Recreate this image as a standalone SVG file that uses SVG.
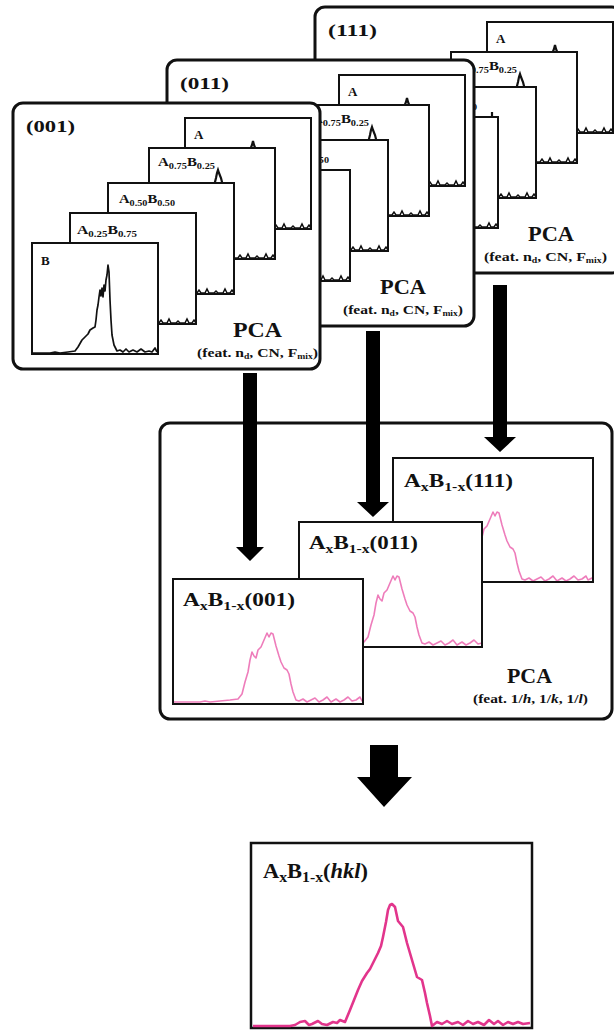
<svg xmlns="http://www.w3.org/2000/svg" xmlns:xlink="http://www.w3.org/1999/xlink" width="614" height="1030" viewBox="0 0 614 1030">
<style>
.panel{fill:#fff;stroke:#111;stroke-width:3}
.fr{fill:#fff;stroke:#111;stroke-width:2}
.t{font-family:"Liberation Serif","Times New Roman",serif;font-weight:bold;fill:#111}
.hd{font-size:17px}
.lb{font-size:13px}
.pca{font-size:21px}
.ft{font-size:13px}
.ml{font-size:19px}
.wg{fill:none;stroke:#111;stroke-width:1.5}
.tip{fill:none;stroke:#111;stroke-width:2.2}
.pk{fill:none;stroke:#ee7dbb;stroke-width:1.6;stroke-linejoin:round}
.pk2{fill:none;stroke:#e2358c;stroke-width:2.6;stroke-linejoin:round}
.arr{fill:#000}
</style>
<defs>
<path id="wig" d="M-45,-1 h8 l2,-3 l2,3 h4 l2,-4 l2,4 h5 l2,-2 l2,2 h5 l2,-4 l2,4 h3 l2,-3 l2,3"/>
<path id="spec" d="M1,123 L27,123 L32,122 L37,123 L47,122 L57,121 L65,120 L69,115 L72,103 L75,93 L77,81 L79,73 L81,77 L83,79 L85,71 L88,68 L91,61 L94,54 L96,58 L98,54 L100,55 L103,67 L106,77 L108,83 L111,89 L114,91 L116,95 L118,105 L120,113 L123,121 L126,122 L130,120 L134,123 L138,121 L142,119 L146,123 L150,121 L154,118 L158,123 L163,120 L167,123 L171,121 L175,118 L179,122 L183,121 L187,118 L189,122 L193,120 L197,122 L200,119"/>
<clipPath id="c111"><rect x="394" y="459" width="198" height="122"/></clipPath>
<clipPath id="c011"><rect x="300" y="523" width="181" height="123"/></clipPath>
<clipPath id="c001"><rect x="174" y="580" width="188" height="123"/></clipPath>
</defs>

<g id="panel-111" transform="translate(302,-96)">
<rect class="panel" x="13" y="103" width="307" height="266" rx="10"/>
<text class="t hd" x="26" y="132" textLength="49" lengthAdjust="spacingAndGlyphs">(111)</text>
<rect class="fr" x="185" y="118" width="126" height="111"/>
<path class="tip" d="M250,150 L252,145 L253,141 L254,145 L256,150"/>
<use href="#wig" class="wg" x="311" y="229"/>
<text class="t lb" x="194" y="139">A</text>
<rect class="fr" x="149" y="148" width="126" height="111"/>
<path class="tip" d="M214,186 L216,178 L217,173 L218,170 L219,173 L221,178 L223,186"/>
<use href="#wig" class="wg" x="275" y="259"/>
<text class="t lb" x="158" y="166" textLength="57" lengthAdjust="spacingAndGlyphs">A<tspan dy="3" font-size="9">0.75</tspan><tspan dy="-3">B</tspan><tspan dy="3" font-size="9">0.25</tspan></text>
<rect class="fr" x="108" y="183" width="126" height="111"/>
<path class="tip" d="M190,216 L190,208"/>
<use href="#wig" class="wg" x="234" y="294"/>
<text class="t lb" x="119" y="203" textLength="56" lengthAdjust="spacingAndGlyphs">A<tspan dy="3" font-size="9">0.50</tspan><tspan dy="-3">B</tspan><tspan dy="3" font-size="9">0.50</tspan></text>
<rect class="fr" x="70" y="213" width="126" height="111"/>
<use href="#wig" class="wg" x="196" y="324"/>
<text class="t lb" x="77" y="234" textLength="60" lengthAdjust="spacingAndGlyphs">A<tspan dy="3" font-size="9">0.25</tspan><tspan dy="-3">B</tspan><tspan dy="3" font-size="9">0.75</tspan></text>
<rect class="fr" x="32" y="243" width="126" height="111"/>
<text class="t pca" x="226" y="337" textLength="46" lengthAdjust="spacingAndGlyphs">PCA</text>
<text class="t ft" x="182" y="357" textLength="123" lengthAdjust="spacingAndGlyphs">(feat. n<tspan dy="2" font-size="8">d</tspan><tspan dy="-2">, CN, F</tspan><tspan dy="2" font-size="8">mix</tspan><tspan dy="-2">)</tspan></text>
</g>

<g id="panel-011" transform="translate(154,-43)">
<rect class="panel" x="13" y="103" width="307" height="266" rx="10"/>
<text class="t hd" x="26" y="132" textLength="49" lengthAdjust="spacingAndGlyphs">(011)</text>
<rect class="fr" x="185" y="118" width="126" height="111"/>
<path class="tip" d="M250,150 L252,145 L253,141 L254,145 L256,150"/>
<use href="#wig" class="wg" x="311" y="229"/>
<text class="t lb" x="194" y="139">A</text>
<rect class="fr" x="149" y="148" width="126" height="111"/>
<path class="tip" d="M214,186 L216,178 L217,173 L218,170 L219,173 L221,178 L223,186"/>
<use href="#wig" class="wg" x="275" y="259"/>
<text class="t lb" x="158" y="166" textLength="57" lengthAdjust="spacingAndGlyphs">A<tspan dy="3" font-size="9">0.75</tspan><tspan dy="-3">B</tspan><tspan dy="3" font-size="9">0.25</tspan></text>
<rect class="fr" x="108" y="183" width="126" height="111"/>
<use href="#wig" class="wg" x="234" y="294"/>
<text class="t lb" x="119" y="203" textLength="56" lengthAdjust="spacingAndGlyphs">A<tspan dy="3" font-size="9">0.50</tspan><tspan dy="-3">B</tspan><tspan dy="3" font-size="9">0.50</tspan></text>
<rect class="fr" x="70" y="213" width="126" height="111"/>
<use href="#wig" class="wg" x="196" y="324"/>
<text class="t lb" x="77" y="234" textLength="60" lengthAdjust="spacingAndGlyphs">A<tspan dy="3" font-size="9">0.25</tspan><tspan dy="-3">B</tspan><tspan dy="3" font-size="9">0.75</tspan></text>
<rect class="fr" x="32" y="243" width="126" height="111"/>
<text class="t pca" x="226" y="337" textLength="46" lengthAdjust="spacingAndGlyphs">PCA</text>
<text class="t ft" x="189" y="357" textLength="120" lengthAdjust="spacingAndGlyphs">(feat. n<tspan dy="2" font-size="8">d</tspan><tspan dy="-2">, CN, F</tspan><tspan dy="2" font-size="8">mix</tspan><tspan dy="-2">)</tspan></text>
</g>

<g id="panel-001">
<rect class="panel" x="13" y="103" width="307" height="266" rx="10"/>
<text class="t hd" x="26" y="132" textLength="49" lengthAdjust="spacingAndGlyphs">(001)</text>
<rect class="fr" x="185" y="118" width="126" height="111"/>
<path class="tip" d="M250,150 L252,145 L253,141 L254,145 L256,150"/>
<use href="#wig" class="wg" x="311" y="229"/>
<text class="t lb" x="194" y="139">A</text>
<rect class="fr" x="149" y="148" width="126" height="111"/>
<path class="tip" d="M214,186 L216,178 L217,173 L218,170 L219,173 L221,178 L223,186"/>
<use href="#wig" class="wg" x="275" y="259"/>
<text class="t lb" x="158" y="166" textLength="57" lengthAdjust="spacingAndGlyphs">A<tspan dy="3" font-size="9">0.75</tspan><tspan dy="-3">B</tspan><tspan dy="3" font-size="9">0.25</tspan></text>
<rect class="fr" x="108" y="183" width="126" height="111"/>
<use href="#wig" class="wg" x="234" y="294"/>
<text class="t lb" x="119" y="203" textLength="56" lengthAdjust="spacingAndGlyphs">A<tspan dy="3" font-size="9">0.50</tspan><tspan dy="-3">B</tspan><tspan dy="3" font-size="9">0.50</tspan></text>
<rect class="fr" x="70" y="213" width="126" height="111"/>
<use href="#wig" class="wg" x="196" y="324"/>
<text class="t lb" x="77" y="234" textLength="60" lengthAdjust="spacingAndGlyphs">A<tspan dy="3" font-size="9">0.25</tspan><tspan dy="-3">B</tspan><tspan dy="3" font-size="9">0.75</tspan></text>
<rect class="fr" x="32" y="243" width="126" height="111"/>
<text class="t lb" x="41" y="265">B</text>
<path fill="none" stroke="#111" stroke-width="1.7" stroke-linejoin="round" d="M33,353 L50,353 L55,352 L60,353 L68,352 L75,351 L78,347 L82,340 L85,337 L88,334 L90,330 L93,328 L95,327 L96,320 L97,310 L98,305 L99,297 L100,290 L101,296 L102,288 L103,297 L104,285 L105,291 L106,280 L107,275 L108,265 L109,272 L110,300 L111,320 L112,335 L114,345 L117,351 L120,350 L123,352 L126,349 L129,352 L133,350 L137,352 L141,349 L145,352 L149,351 L152,352 L155,348 L157,352"/>
<text class="t pca" x="233" y="337" textLength="49" lengthAdjust="spacingAndGlyphs">PCA</text>
<text class="t ft" x="197" y="357" textLength="121" lengthAdjust="spacingAndGlyphs">(feat. n<tspan dy="2" font-size="8">d</tspan><tspan dy="-2">, CN, F</tspan><tspan dy="2" font-size="8">mix</tspan><tspan dy="-2">)</tspan></text>
</g>

<g id="panel-hkl-pca">
<rect class="panel" x="160" y="423" width="452" height="296" rx="10"/>
<g id="frame-111">
<rect class="fr" x="393" y="458" width="200" height="124"/>
<g clip-path="url(#c111)"><use href="#spec" class="pk" transform="translate(399,458)"/></g>
<text class="t ml" x="404" y="487" textLength="109" lengthAdjust="spacingAndGlyphs">A<tspan dy="4" font-size="13">x</tspan><tspan dy="-4">B</tspan><tspan dy="4" font-size="13">1-x</tspan><tspan dy="-4">(111)</tspan></text>
</g>
<g id="frame-011">
<rect class="fr" x="299" y="522" width="183" height="125"/>
<g clip-path="url(#c011)"><use href="#spec" class="pk" transform="translate(299,522)"/></g>
<text class="t ml" x="309" y="549" textLength="109" lengthAdjust="spacingAndGlyphs">A<tspan dy="4" font-size="13">x</tspan><tspan dy="-4">B</tspan><tspan dy="4" font-size="13">1-x</tspan><tspan dy="-4">(011)</tspan></text>
</g>
<g id="frame-001">
<rect class="fr" x="173" y="579" width="190" height="125"/>
<g clip-path="url(#c001)"><use href="#spec" class="pk" transform="translate(173,579)"/></g>
<text class="t ml" x="183" y="606" textLength="112" lengthAdjust="spacingAndGlyphs">A<tspan dy="4" font-size="13">x</tspan><tspan dy="-4">B</tspan><tspan dy="4" font-size="13">1-x</tspan><tspan dy="-4">(001)</tspan></text>
</g>
<text class="t pca" x="507" y="683" textLength="45" lengthAdjust="spacingAndGlyphs">PCA</text>
<text class="t" font-size="12" x="473" y="703" textLength="115" lengthAdjust="spacingAndGlyphs">(feat. 1/<tspan font-style="italic">h</tspan>, 1/<tspan font-style="italic">k</tspan>, 1/<tspan font-style="italic">l</tspan>)</text>
</g>

<g id="connectors">
<path class="arr" d="M243,373 H257 V547 H264 L250,561 L236,547 H243 Z"/>
<path class="arr" d="M366,331 H380 V502 H389 L373,517 L357,502 H366 Z"/>
<path class="arr" d="M493,285 H507 V437 H516 L500,452 L484,437 H493 Z"/>
<path class="arr" d="M370,745 H398 V777 H412 L384,807 L357,777 H370 Z"/>
</g>

<g id="result-hkl">
<rect x="251" y="843" width="281" height="185" fill="#fff" stroke="#111" stroke-width="2.5"/>
<path class="pk2" d="M253,1026 L290,1026 L295,1025 L300,1022 L305,1021 L309,1025 L312,1024 L318,1021 L322,1024 L327,1025 L333,1022 L337,1023 L340,1020 L345,1022 L350,1010 L354,1000 L358,990 L362,981 L367,973 L370,969 L373,963 L378,953 L381,946 L383,937 L386,922 L388,910 L390,905 L392,904 L395,907 L398,921 L403,927 L405,935 L407,943 L412,960 L417,977 L422,980 L425,993 L427,1003 L430,1016 L432,1026 L437,1022 L442,1024 L447,1021 L452,1024 L458,1022 L463,1025 L468,1021 L473,1024 L478,1022 L484,1025 L489,1020 L494,1024 L498,1021 L503,1025 L508,1022 L513,1024 L518,1022 L523,1024 L530,1023"/>
<text class="t" font-size="20" x="263" y="878" textLength="105" lengthAdjust="spacingAndGlyphs">A<tspan dy="4" font-size="14">x</tspan><tspan dy="-4">B</tspan><tspan dy="4" font-size="14">1-x</tspan><tspan dy="-4">(</tspan><tspan font-style="italic">hkl</tspan>)</text>
</g>
</svg>
